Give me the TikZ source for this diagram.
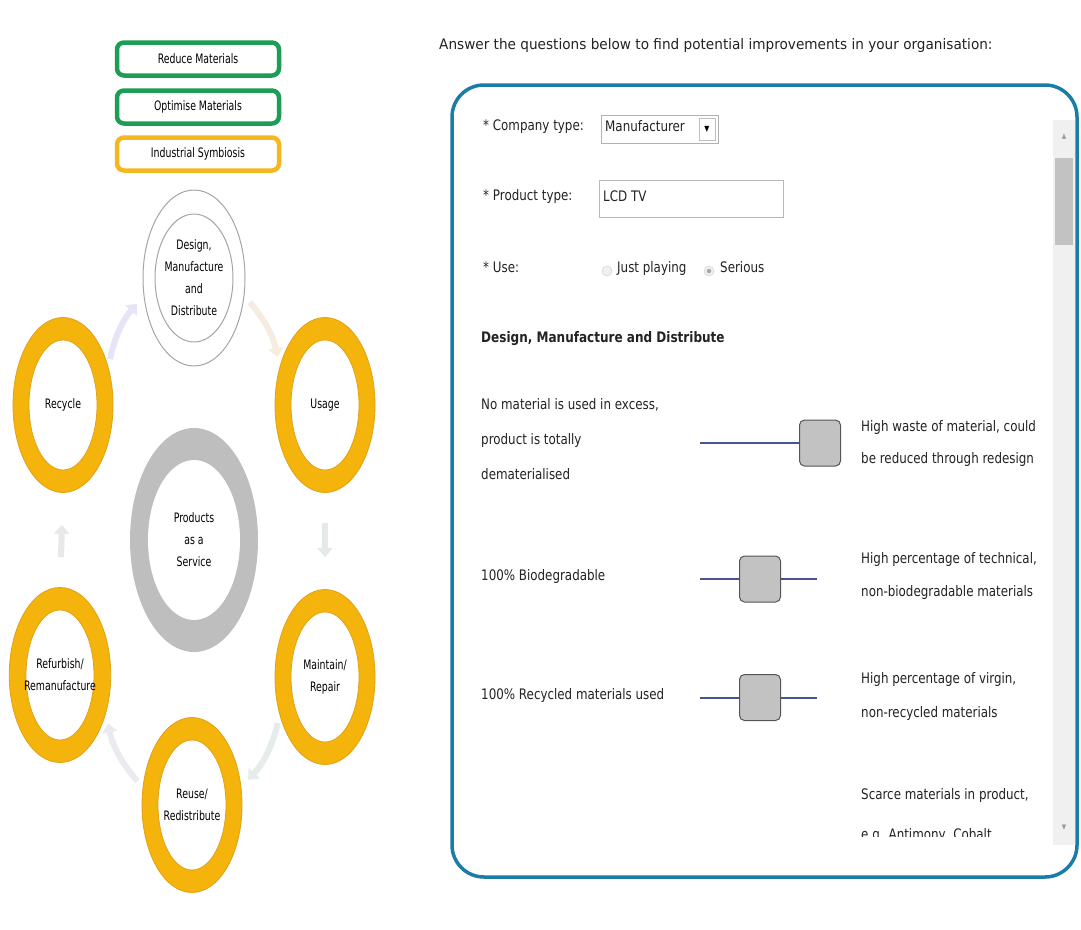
\documentclass[tikz,border=0pt]{standalone}
\usepackage{fontspec}
\setmainfont[FakeStretch=0.82]{DejaVu Sans}
\newfontfamily\condf[FakeStretch=0.72]{DejaVu Sans}
\newfontfamily\headf[FakeStretch=0.83]{DejaVu Sans}
\newfontfamily\leadf[FakeStretch=0.94]{DejaVu Sans}
\usetikzlibrary{shapes.geometric,arrows.meta}

\definecolor{ringgold}{RGB}{244,180,12}
\definecolor{ringedge}{RGB}{226,160,20}
\definecolor{boxgreen}{RGB}{30,158,85}
\definecolor{boxorange}{RGB}{246,182,30}
\definecolor{ringgray}{RGB}{190,190,190}
\definecolor{thingray}{RGB}{165,165,165}
\definecolor{panelblue}{RGB}{28,124,168}
\definecolor{trackblue}{RGB}{72,84,140}
\definecolor{knobgray}{RGB}{194,194,194}
\definecolor{knobedge}{RGB}{85,85,85}
\definecolor{txt}{RGB}{35,35,35}
\definecolor{arrA}{RGB}{230,228,246}
\definecolor{arrB}{RGB}{247,236,224}
\definecolor{arrC}{RGB}{228,235,231}
\definecolor{arrD}{RGB}{230,235,235}
\definecolor{arrE}{RGB}{234,234,240}
\definecolor{arrF}{RGB}{232,232,232}

\tikzset{
  lbl/.style={font=\condf\fontsize{13}{22}\selectfont, text=black, align=center},
  stagebox/.style={line width=4.5pt, rounded corners=7pt, minimum width=162pt,
    minimum height=33pt, inner sep=0pt, fill=white, lbl},
  goldring/.style={ellipse, fill=ringgold, draw=ringedge, line width=0.8pt,
    minimum width=100pt, minimum height=175pt, inner sep=0pt, lbl,
    path picture={\fill[white, draw=ringedge, line width=0.8pt]
      (path picture bounding box.center) ellipse [x radius=34pt, y radius=65pt];}},
  grayring/.style={ellipse, fill=ringgray, minimum width=128pt, minimum height=224pt,
    inner sep=0pt, lbl,
    path picture={\fill[white]
      (path picture bounding box.center) ellipse [x radius=46pt, y radius=80pt];}},
  openring/.style={ellipse, fill=white, draw=thingray, line width=1pt,
    minimum width=102pt, minimum height=176pt, inner sep=0pt, lbl,
    path picture={\draw[thingray, line width=1pt]
      (path picture bounding box.center) ellipse [x radius=39pt, y radius=64pt];}},
  cyc/.style={line width=6pt, -{Triangle[length=9pt,width=15pt]}},
  body/.style={font=\fontsize{14.5}{16}\selectfont, text=txt, anchor=mid west, inner sep=0pt},
  track/.style={line width=2.4pt, trackblue},
  knob/.style={draw=knobedge, fill=knobgray, line width=1pt, rounded corners=5pt,
    minimum width=41pt, minimum height=46pt, inner sep=0pt},
}

\begin{document}
\begin{tikzpicture}[x=1pt,y=-1pt]
\useasboundingbox (0,0) rectangle (1081,929);
\fill[white] (0,0) rectangle (1081,929);

% ---- strategy boxes ----
\node[stagebox, draw=boxgreen]  (reduce)   at (198,59)  {Reduce Materials};
\node[stagebox, draw=boxgreen]  (optimise) at (198,107) {Optimise Materials};
\node[stagebox, draw=boxorange] (symb)     at (198,154) {Industrial Symbiosis};

% ---- life-cycle stages ----
\node[openring] (design)    at (194,278) {Design,\\Manufacture\\and\\Distribute};
\node[goldring] (usage)     at (325,405) {Usage};
\node[goldring] (maintain)  at (325,677) {Maintain/\\Repair};
\node[goldring] (reuse)     at (192,805) {Reuse/\\Redistribute};
\node[goldring] (refurbish) at (60,675)  {Refurbish/\\Remanufacture};
\node[goldring] (recycle)   at (63,405)  {Recycle};
\node[grayring] (paas)      at (194,540) {Products\\as a\\Service};

% ---- faint cycle arrows ----
\draw[cyc, arrB, shorten <=8pt, shorten >=10pt] (design.-20) to[bend left=15] (usage.140);
\draw[cyc, arrC, shorten <=30pt, shorten >=32pt] (usage.-90) -- (maintain.90);
\draw[cyc, arrD, shorten <=8pt, shorten >=10pt] (maintain.220) to[bend left=15] (reuse.20);
\draw[cyc, arrE, shorten <=8pt, shorten >=10pt] (reuse.160) to[bend left=15] (refurbish.-40);
\draw[cyc, arrF, shorten <=30pt, shorten >=32pt] (refurbish.90) -- (recycle.-90);
\draw[cyc, arrA, shorten <=8pt, shorten >=10pt] (recycle.40) to[bend left=15] (design.200);

% ---- questionnaire ----
\node[body, font=\leadf\fontsize{14.5}{16}\selectfont] (head) at (439,47)
  {Answer the questions below to find potential improvements in your organisation:};

\draw[panelblue, line width=3.5pt, rounded corners=32pt] (452,85) rectangle (1077,877);

% scrollbar
\fill[gray!12] (1053,120) rectangle (1075,845);
\fill[knobgray] (1055,158) rectangle (1073,245);
\node[text=gray!80, font=\fontsize{7}{8}\selectfont, inner sep=0pt] (up) at (1064,137) {▲};
\node[text=gray!80, font=\fontsize{7}{8}\selectfont, inner sep=0pt] (down) at (1064,828) {▼};

\begin{scope}
\clip (455,100) rectangle (1050,836);

\node[body] (ctype) at (483,128) {* Company type:};
\node[draw=gray!60, line width=0.8pt, minimum width=117pt, minimum height=28pt,
      inner sep=0pt] (ddbox) at (659.5,129) {};
\node[body] (ddtext) at (605,129) {Manufacturer};
\node[draw=gray!50, fill=white, line width=0.6pt, minimum width=16pt, minimum height=22pt,
      inner sep=0pt, font=\fontsize{8}{9}\selectfont, text=black] (ddarrow) at (707,129) {▼};

\node[body] (ptype) at (483,198) {* Product type:};
\node[draw=gray!55, line width=1pt, minimum width=184pt, minimum height=37pt,
      inner sep=0pt] (pbox) at (691,198.5) {};
\node[body] (ptext) at (603,199) {LCD TV};

\node[body] (use) at (483,270) {* Use:};
\node[circle, draw=gray!40, fill=gray!12, minimum size=10pt, inner sep=0pt] (rad1) at (607,271) {};
\node[body] (just) at (617,270) {Just playing};
\node[circle, draw=gray!40, fill=gray!12, minimum size=10pt, inner sep=0pt,
      path picture={\fill[gray!70] (path picture bounding box.center) circle (2.2pt);}]
      (rad2) at (709,271) {};
\node[body] (serious) at (720,270) {Serious};

\node[body, font=\headf\bfseries\fontsize{14.5}{16}\selectfont] (sect) at (481,340)
  {Design, Manufacture and Distribute};

% row 1
\node[body] (r1l1) at (481,407) {No material is used in excess,};
\node[body] (r1l2) at (481,442) {product is totally};
\node[body] (r1l3) at (481,477) {dematerialised};
\node[knob] (k1) at (820,443) {};
\coordinate (t1a) at (700,443);
\draw[track] (t1a) -- (k1.west);
\node[body] (r1r1) at (861,429) {High waste of material, could};
\node[body] (r1r2) at (861,461) {be reduced through redesign};

% row 2
\node[body] (r2l) at (481,578) {100\% Biodegradable};
\coordinate (t2a) at (700,579);
\coordinate (t2b) at (817,579);
\draw[track] (t2a) -- (t2b);
\node[knob] (k2) at (760,579) {};
\node[body] (r2r1) at (861,561) {High percentage of technical,};
\node[body] (r2r2) at (861,594) {non-biodegradable materials};

% row 3
\node[body] (r3l) at (481,697) {100\% Recycled materials used};
\coordinate (t3a) at (700,698);
\coordinate (t3b) at (817,698);
\draw[track] (t3a) -- (t3b);
\node[knob] (k3) at (760,697.5) {};
\node[body] (r3r1) at (861,681) {High percentage of virgin,};
\node[body] (r3r2) at (861,715) {non-recycled materials};

% row 4
\node[body] (r4r1) at (861,797) {Scarce materials in product,};
\node[body] (r4r2) at (861,837) {e.g. Antimony, Cobalt};
\end{scope}
\end{tikzpicture}
\end{document}
